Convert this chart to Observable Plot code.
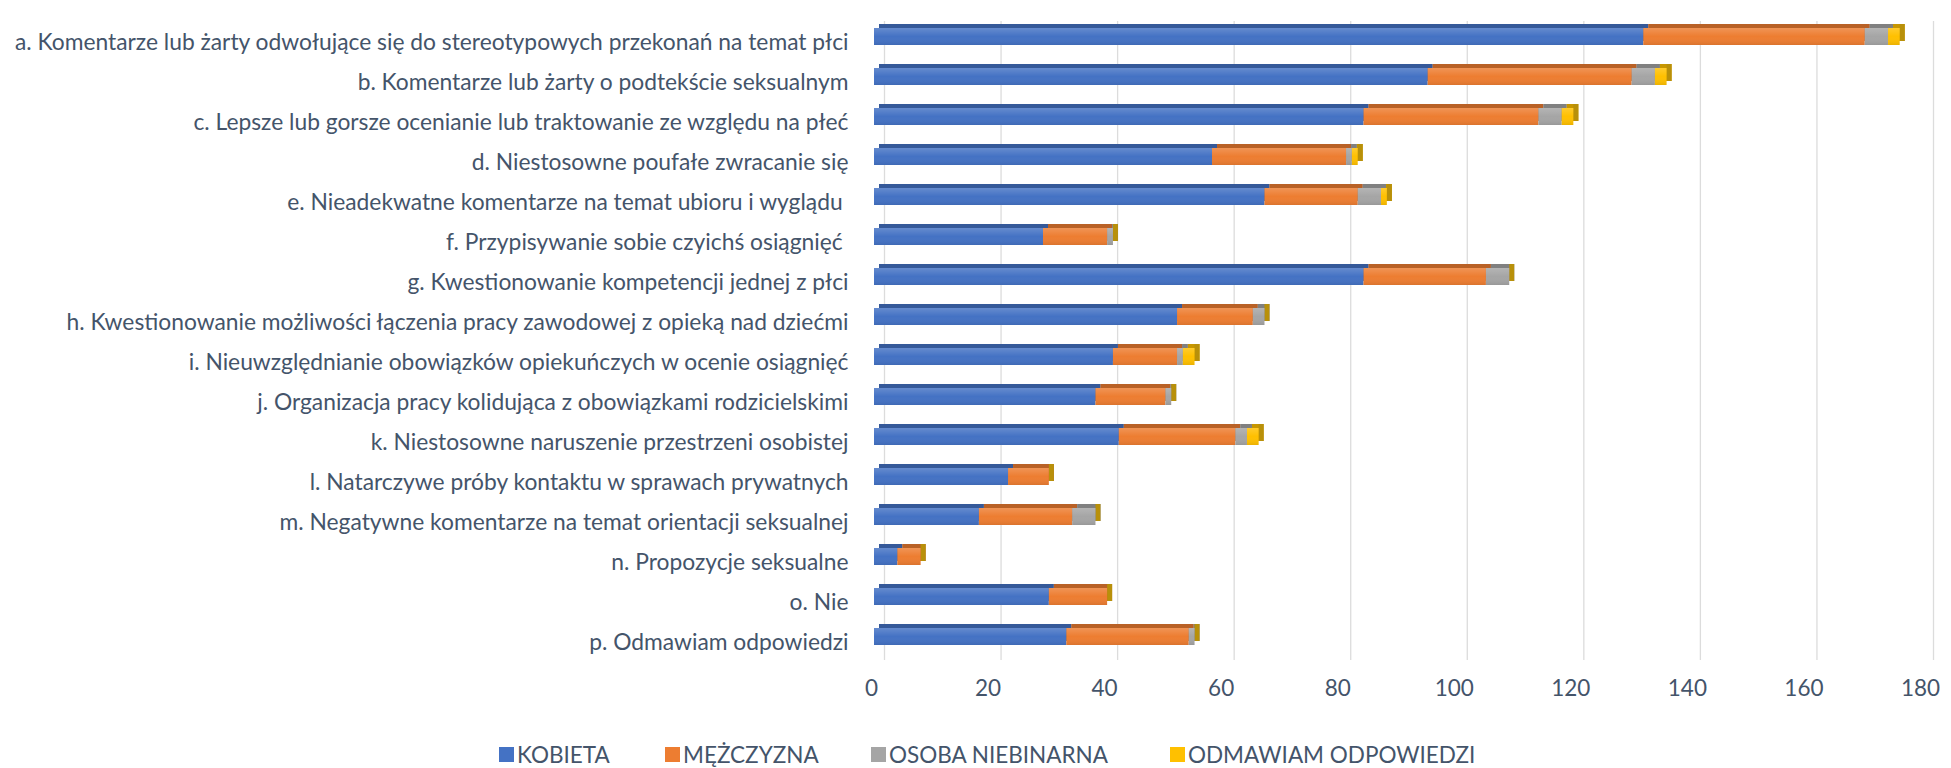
<!DOCTYPE html>
<html>
<head>
<meta charset="utf-8">
<script src="https://cdn.jsdelivr.net/npm/d3@7"></script>
<script src="https://cdn.jsdelivr.net/npm/@observablehq/plot@0.6"></script>
<style>
  html, body { margin: 0; padding: 0; background: #fff; }
  body { width: 1951px; height: 768px; position: relative; overflow: hidden; font-family: Lato, "Open Sans", sans-serif; }
  #legend { position: absolute; top: 740px; left: 0; width: 1951px; height: 28px; color: #44546a; font-size: 22.5px; }
  #legend .item { position: absolute; top: 0; display: flex; align-items: center; height: 28px; white-space: nowrap; }
  #legend .sw { width: 15px; height: 15px; margin-right: 3px; }
</style>
</head>
<body>
<div id="chart"></div>
<div id="legend"></div>
<script>
const categories = [
  "a. Komentarze lub żarty odwołujące się do stereotypowych przekonań na temat płci",
  "b. Komentarze lub żarty o podtekście seksualnym",
  "c. Lepsze lub gorsze ocenianie lub traktowanie ze względu na płeć",
  "d. Niestosowne poufałe zwracanie się",
  "e. Nieadekwatne komentarze na temat ubioru i wyglądu ",
  "f. Przypisywanie sobie czyichś osiągnięć ",
  "g. Kwestionowanie kompetencji jednej z płci",
  "h. Kwestionowanie możliwości łączenia pracy zawodowej z opieką nad dziećmi",
  "i. Nieuwzględnianie obowiązków opiekuńczych w ocenie osiągnięć",
  "j. Organizacja pracy kolidująca z obowiązkami rodzicielskimi",
  "k. Niestosowne naruszenie przestrzeni osobistej",
  "l. Natarczywe próby kontaktu w sprawach prywatnych",
  "m. Negatywne komentarze na temat orientacji seksualnej",
  "n. Propozycje seksualne",
  "o. Nie",
  "p. Odmawiam odpowiedzi"
];
const seriesNames = ["KOBIETA", "MĘŻCZYZNA", "OSOBA NIEBINARNA", "ODMAWIAM ODPOWIEDZI"];
const kobieta    = [132, 95, 84, 58, 67, 29, 84, 52, 41, 38, 42, 23, 18, 4, 30, 33];
const mezczyzna  = [ 38, 35, 30, 23, 16, 11, 21, 13, 11, 12, 20,  7, 16, 4, 10, 21];
const niebinarna = [  4,  4,  4,  1,  4,  1,  4,  2,  1,  1,  2,  0,  4, 0,  0,  1];
const odmawiam   = [  2,  2,  2,  1,  1,  0,  0,  0,  2,  0,  2,  0,  0, 0,  0,  0];
const xTicks = [0, 20, 40, 60, 80, 100, 120, 140, 160, 180];
const colors = ["#4472c4", "#ed7d31", "#a5a5a5", "#ffc000"];
const legendLeft = [499, 665, 871, 1170];

const seriesValues = [kobieta, mezczyzna, niebinarna, odmawiam];
const rows = categories.flatMap((c, i) =>
  seriesNames.map((s, j) => ({cat: c, series: s, value: seriesValues[j][i]})));
const totals = categories.map((c, i) => ({cat: c, total: d3.sum(seriesValues, v => v[i])}));

const textColor = "#44546a";
const base = {x: "value", y: "cat", z: "series", order: seriesNames};

const plot = Plot.plot({
  width: 1951,
  height: 735,
  marginLeft: 874,
  marginRight: 28,
  marginTop: 15,
  marginBottom: 78,
  style: {fontFamily: "Lato, 'Open Sans', sans-serif", background: "#fff"},
  x: {domain: [0, 180], axis: null},
  y: {domain: categories, axis: null, paddingInner: 0.58, paddingOuter: 0.29},
  color: {domain: seriesNames, range: colors},
  marks: [
    Plot.ruleX(xTicks, {x: d => d, dx: 10, stroke: "#dcdcdc", strokeWidth: 1.3, insetTop: 6, insetBottom: -3}),
    // depth (top / side faces)
    Plot.barX(rows, Plot.stackX({...base, fill: "series", dx: 5, dy: -4})),
    Plot.barX(rows, Plot.stackX({...base, fill: "black", fillOpacity: 0.22, dx: 5, dy: -4})),
    Plot.barX(totals, {x1: "total", x2: "total", y: "cat", insetLeft: -5, dx: 5, dy: -4, fill: "#b8900a"}),
    // front faces
    Plot.barX(rows, Plot.stackX({...base, fill: "series"})),
    Plot.barX(rows, Plot.stackX({...base, fill: "url(#shade)"})),
    // category labels
    Plot.text(categories, {x: 0, y: d => d, text: d => d, textAnchor: "end", dx: -26, dy: 6, fontSize: 22.8, fill: textColor}),
    // x tick labels
    Plot.text(xTicks, {x: d => d, text: d => String(d), frameAnchor: "bottom", dy: 38, dx: -3, fontSize: 22.5, fill: textColor})
  ]
});

const svg = d3.select(plot);
const defs = svg.insert("defs", ":first-child");
const g = defs.append("linearGradient").attr("id", "shade").attr("x1", 0).attr("y1", 0).attr("x2", 0).attr("y2", 1);
g.append("stop").attr("offset", "0%").attr("stop-color", "#fff").attr("stop-opacity", 0.18);
g.append("stop").attr("offset", "50%").attr("stop-color", "#fff").attr("stop-opacity", 0.0);
g.append("stop").attr("offset", "100%").attr("stop-color", "#000").attr("stop-opacity", 0.08);

document.getElementById("chart").appendChild(plot);

const legend = d3.select("#legend");
seriesNames.forEach((s, i) => {
  const it = legend.append("div").attr("class", "item").style("left", legendLeft[i] + "px");
  it.append("div").attr("class", "sw").style("background", colors[i]);
  it.append("span").text(s);
});
</script>
</body>
</html>
